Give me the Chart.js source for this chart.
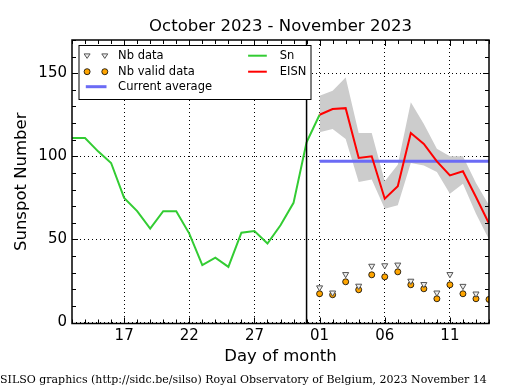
<!DOCTYPE html>
<html>
<head>
<meta charset="utf-8">
<script src="https://cdn.jsdelivr.net/npm/chart.js@4.4.0/dist/chart.umd.min.js"></script>
<style>
html, body { margin: 0; padding: 0; background: #fff; }
#wrap { width: 515px; height: 390px; }
</style>
</head>
<body>
<div id="wrap"><canvas id="myChart" width="515" height="390"></canvas></div>
<script>
// day axis: Oct 13 .. Nov 14 (index 0 .. 32)
const dayLabels = ['13','14','15','16','17','18','19','20','21','22','23','24','25','26','27','28','29','30','31',
	'01','02','03','04','05','06','07','08','09','10','11','12','13','14'];
const xTickIdx = [4, 9, 14, 19, 24, 29];
const yTickVals = [0, 50, 100, 150];
const monthSplit = 18;   // Oct 31
const novStart = 19;     // Nov 01

// daily Sn, Oct 13 .. Nov 01
const snValues = [111, 111, 103, 96, 75, 67, 56.5, 67, 67, 53.5, 34.5, 39, 33.5, 54, 55, 47.5, 58.5, 72, 108.5, 125];
// EISN and its error band, Nov 01 .. Nov 14
const eisnValues = [125, 128.5, 129, 99, 100, 74.5, 82, 114, 107.5, 97, 88.5, 91, 75.5, 59.5];
const eisnUpper = [136.5, 139.5, 147.5, 114, 114, 85, 95, 132.5, 119.5, 104.5, 100, 100, 84, 70.5];
const eisnLower = [114.5, 116.5, 110.5, 84.5, 86, 68.5, 70.5, 96, 94.5, 90.5, 77.5, 83.5, 65.5, 50];
// station counts, Nov 01 ..
const nbData = [21, 17.9, 29, 22, 34, 34.3, 34.7, 25, 23, 17.9, 29, 21.9, 17.3];
const nbValid = [17.3, 16.7, 24.5, 19.7, 28.7, 27.5, 30.5, 22.7, 20.3, 14.3, 22.7, 17.3, 14.3, 13.9];
const currentAverage = 97;

const novPts = arr => arr.map((v, i) => ({x: novStart + i, y: v}));

Chart.defaults.font.family = 'DejaVu Sans';
Chart.defaults.color = '#000';

function drawTri(ctx, x, y, r) {
	ctx.beginPath();
	ctx.moveTo(x - r, y - r * 0.6);
	ctx.lineTo(x + r, y - r * 0.6);
	ctx.lineTo(x, y + r * 0.9);
	ctx.closePath();
	ctx.fillStyle = '#eee';
	ctx.fill();
	ctx.strokeStyle = '#555';
	ctx.lineWidth = 1;
	ctx.stroke();
}
function drawDot(ctx, x, y, r) {
	ctx.beginPath();
	ctx.arc(x, y, r, 0, Math.PI * 2);
	ctx.fillStyle = '#FFA500';
	ctx.fill();
	ctx.strokeStyle = '#000';
	ctx.lineWidth = 0.8;
	ctx.stroke();
}

const extras = {
	id: 'extras',
	afterDraw(chart) {
		const {ctx, chartArea: a, scales} = chart;
		ctx.save();

		// month separator
		let sx = scales.x.getPixelForValue(monthSplit);
		ctx.strokeStyle = '#000';
		ctx.lineWidth = 1.5;
		ctx.beginPath();
		ctx.moveTo(sx, a.top);
		ctx.lineTo(sx, a.bottom);
		ctx.stroke();

		// inward ticks on all sides
		ctx.lineWidth = 1;
		for (let i = 0; i < dayLabels.length; i++) {
			let px = Math.round(scales.x.getPixelForValue(i)) + 0.5;
			let len = xTickIdx.includes(i) ? 6 : 4;
			ctx.beginPath();
			ctx.moveTo(px, a.bottom); ctx.lineTo(px, a.bottom - len);
			ctx.moveTo(px, a.top); ctx.lineTo(px, a.top + len);
			ctx.stroke();
		}
		for (let v = 0; v <= 170; v += 10) {
			let py = Math.round(scales.y.getPixelForValue(v)) + 0.5;
			let len = v % 50 === 0 ? 6 : 4;
			ctx.beginPath();
			ctx.moveTo(a.left, py); ctx.lineTo(a.left + len, py);
			ctx.moveTo(a.right, py); ctx.lineTo(a.right - len, py);
			ctx.stroke();
		}

		// frame
		ctx.lineWidth = 1.5;
		ctx.strokeRect(a.left, a.top, a.right - a.left, a.bottom - a.top);

		// legend box
		const bx = a.left + 6.5, by = a.top + 5, bw = 232, bh = 54;
		ctx.fillStyle = '#fff';
		ctx.fillRect(bx, by, bw, bh);
		ctx.strokeStyle = '#000';
		ctx.lineWidth = 1;
		ctx.strokeRect(bx + 0.5, by + 0.5, bw, bh);

		const r1 = by + 10.7, r2 = by + 26.7, r3 = by + 41.7;
		drawTri(ctx, bx + 8.6, r1, 3);
		drawTri(ctx, bx + 26.3, r1, 3);
		drawDot(ctx, bx + 8.6, r2, 3);
		drawDot(ctx, bx + 26.3, r2, 3);

		ctx.lineWidth = 3;
		ctx.strokeStyle = '#6b6bf5';
		ctx.beginPath(); ctx.moveTo(bx + 7.3, r3); ctx.lineTo(bx + 28, r3); ctx.stroke();
		ctx.lineWidth = 2;
		ctx.strokeStyle = '#33cc33';
		ctx.beginPath(); ctx.moveTo(bx + 169.6, r1); ctx.lineTo(bx + 188.3, r1); ctx.stroke();
		ctx.strokeStyle = '#ff0000';
		ctx.beginPath(); ctx.moveTo(bx + 169.6, r2); ctx.lineTo(bx + 188.3, r2); ctx.stroke();

		ctx.fillStyle = '#000';
		ctx.font = '11.5px "DejaVu Sans"';
		ctx.textBaseline = 'middle';
		ctx.textAlign = 'left';
		ctx.fillText('Nb data', bx + 39.6, r1);
		ctx.fillText('Nb valid data', bx + 39.6, r2);
		ctx.fillText('Current average', bx + 39.6, r3);
		ctx.fillText('Sn', bx + 201.3, r1);
		ctx.fillText('EISN', bx + 201.3, r2);

		ctx.restore();
	}
};

const ctx = document.getElementById('myChart');

new Chart(ctx, {
	type: 'line',
	data: {
		datasets: [
			{
				label: 'Nb data',
				data: novPts(nbData),
				showLine: false,
				pointStyle: 'triangle',
				rotation: 180,
				pointRadius: 3.5,
				pointBackgroundColor: '#eee',
				pointBorderColor: '#555',
				pointBorderWidth: 1,
				clip: 0
			},
			{
				label: 'Nb valid data',
				data: novPts(nbValid),
				showLine: false,
				pointStyle: 'circle',
				pointRadius: 3,
				pointBackgroundColor: '#FFA500',
				pointBorderColor: '#000',
				pointBorderWidth: 0.8,
				clip: 0
			},
			{
				label: 'EISN',
				data: novPts(eisnValues),
				borderColor: '#ff0000',
				borderWidth: 2,
				pointRadius: 0,
				tension: 0,
				clip: 0
			},
			{
				label: 'Current average',
				data: [{x: novStart, y: currentAverage}, {x: dayLabels.length - 1, y: currentAverage}],
				borderColor: '#6b6bf5',
				borderWidth: 3,
				pointRadius: 0,
				clip: 0
			},
			{
				label: 'Sn',
				data: snValues.map((v, i) => ({x: i, y: v})),
				borderColor: '#33cc33',
				borderWidth: 2,
				pointRadius: 0,
				tension: 0,
				clip: 0
			},
			{
				label: 'upper',
				data: novPts(eisnUpper),
				borderWidth: 0,
				pointRadius: 0,
				fill: false,
				clip: 0
			},
			{
				label: 'lower',
				data: novPts(eisnLower),
				borderWidth: 0,
				pointRadius: 0,
				backgroundColor: '#cccccc',
				fill: '-1',
				clip: 0
			}
		]
	},
	options: {
		responsive: false,
		devicePixelRatio: 1,
		animation: false,
		events: [],
		layout: { padding: { left: 0, right: 26, top: 0, bottom: 0 } },
		plugins: {
			legend: { display: false },
			tooltip: { enabled: false },
			title: {
				display: true,
				fullSize: false,
				text: 'October 2023 - November 2023',
				font: { size: 16.5, weight: 'normal' },
				color: '#000',
				padding: { top: 16.5, bottom: 3.7 }
			},
			subtitle: {
				display: true,
				position: 'bottom',
				align: 'start',
				text: 'SILSO graphics (http://sidc.be/silso) Royal Observatory of Belgium, 2023 November 14',
				font: { family: 'DejaVu Serif', size: 11, weight: 'normal' },
				color: '#000',
				padding: { top: 2, bottom: 3 }
			}
		},
		scales: {
			x: {
				type: 'linear',
				min: 0,
				max: dayLabels.length - 1,
				z: 1,
				afterBuildTicks: s => { s.ticks = xTickIdx.map(v => ({value: v})); },
				ticks: {
					callback: v => dayLabels[v],
					font: { size: 15 },
					color: '#000',
					padding: 4,
					maxRotation: 0,
					autoSkip: false
				},
				grid: { color: '#000', lineWidth: 1, drawTicks: false },
				border: { display: false, dash: [1, 3] },
				title: {
					display: true,
					text: 'Day of month',
					font: { size: 16.5 },
					color: '#000',
					padding: { top: 0, bottom: 5 }
				},
				afterFit: s => { s.height = 48.3; }
			},
			y: {
				type: 'linear',
				min: -0.6,
				max: 170,
				z: 1,
				afterBuildTicks: s => { s.ticks = yTickVals.map(v => ({value: v})); },
				ticks: { font: { size: 15 }, color: '#000', padding: 5 },
				grid: { color: '#000', lineWidth: 1, drawTicks: false },
				border: { display: false, dash: [1, 3] },
				title: {
					display: true,
					text: 'Sunspot Number',
					font: { size: 16.5 },
					color: '#000',
					padding: { top: 12, bottom: 0 }
				},
				afterFit: s => { s.width = 72; }
			}
		}
	},
	plugins: [extras]
});
</script>
</body>
</html>
